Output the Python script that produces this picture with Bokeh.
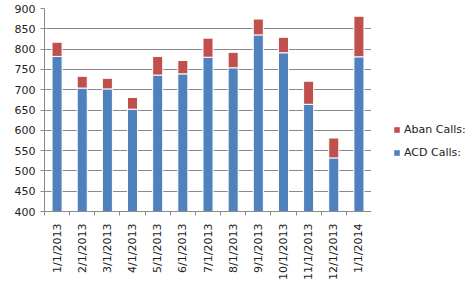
from bokeh.plotting import figure
from bokeh.models import FixedTicker, Legend, LegendItem, ColumnDataSource, Range1d
from bokeh.layouts import row
from bokeh.embed import file_html
from bokeh.resources import INLINE
import math

months = ["1/1/2013", "2/1/2013", "3/1/2013", "4/1/2013", "5/1/2013", "6/1/2013",
          "7/1/2013", "8/1/2013", "9/1/2013", "10/1/2013", "11/1/2013", "12/1/2013", "1/1/2014"]
acd_calls = [782, 704, 702, 652, 736, 739, 780, 754, 835, 791, 664, 532, 781]
aban_calls = [35, 29, 26, 29, 46, 33, 47, 38, 39, 38, 57, 49, 100]
y_ticks = [400, 450, 500, 550, 600, 650, 700, 750, 800, 850, 900]

xs = list(range(len(months)))
tops = [a + b for a, b in zip(acd_calls, aban_calls)]
src = ColumnDataSource(dict(x=xs, acd=acd_calls, total=tops, base=[400] * len(xs)))

FONT = "DejaVu Sans"
GRID = "#8a8a8a"
BLUE = "#4f81bd"
RED = "#c0504d"

p = figure(width=371, height=282, output_backend="svg", toolbar_location=None,
           x_range=Range1d(-0.5, len(months) - 0.5), y_range=Range1d(400, 900),
           min_border_left=44, min_border_right=0, min_border_top=8, min_border_bottom=71)
p.outline_line_color = None
p.background_fill_color = "white"
p.border_fill_color = "white"

r_acd = p.vbar(x="x", bottom="base", top="acd", width=0.4, source=src,
               fill_color=BLUE, line_color="white", line_width=1)
r_aban = p.vbar(x="x", bottom="acd", top="total", width=0.4, source=src,
                fill_color=RED, line_color="white", line_width=1)

# y axis
p.yaxis.ticker = FixedTicker(ticks=y_ticks)
p.yaxis.axis_line_color = GRID
p.yaxis.major_tick_line_color = GRID
p.yaxis.major_tick_out = 4
p.yaxis.major_tick_in = 0
p.yaxis.minor_tick_line_color = None
p.yaxis.major_label_text_font = FONT
p.yaxis.major_label_text_font_size = "11px"
p.yaxis.major_label_text_color = "#222222"
p.yaxis.major_label_standoff = 5

# x axis
p.xaxis.ticker = FixedTicker(ticks=xs, minor_ticks=[i - 0.5 for i in range(len(xs) + 1)])
p.xaxis.major_label_overrides = {i: m for i, m in enumerate(months)}
p.xaxis.major_label_orientation = math.pi / 2
p.xaxis.axis_line_color = GRID
p.xaxis.major_tick_line_color = None
p.xaxis.minor_tick_line_color = GRID
p.xaxis.minor_tick_out = 4
p.xaxis.minor_tick_in = 0
p.xaxis.major_label_text_font = FONT
p.xaxis.major_label_text_font_size = "11px"
p.xaxis.major_label_text_color = "#222222"
p.xaxis.major_label_standoff = 6

p.xgrid.grid_line_color = None
p.ygrid.grid_line_color = GRID
p.ygrid.ticker = FixedTicker(ticks=y_ticks)

# legend panel (dummy swatch renderers lie outside its visible range)
lf = figure(width=102, height=282, output_backend="svg", toolbar_location=None,
            x_range=Range1d(0, 1), y_range=Range1d(0, 1),
            x_axis_location=None, y_axis_location=None,
            min_border_left=0, min_border_right=0, min_border_top=0, min_border_bottom=0)
lf.outline_line_color = None
lf.xgrid.grid_line_color = None
lf.ygrid.grid_line_color = None
dummy = ColumnDataSource(dict(x=[-5], t=[-5], b=[-6]))
la = lf.vbar(x="x", top="t", bottom="b", width=0.1, source=dummy, fill_color=RED, line_color=None)
lc = lf.vbar(x="x", top="t", bottom="b", width=0.1, source=dummy, fill_color=BLUE, line_color=None)

legend = Legend(items=[LegendItem(label="Aban Calls:", renderers=[la]),
                       LegendItem(label="ACD Calls:", renderers=[lc])],
                location=(22, 49), padding=0, margin=0, spacing=3,
                glyph_width=7, glyph_height=7, label_height=20, label_standoff=4,
                label_text_font=FONT, label_text_font_size="11px", label_text_color="#222222",
                border_line_color=None, background_fill_alpha=0)
lf.add_layout(legend, "center")

layout = row(p, lf, spacing=0)
open("out.html", "w").write(file_html(layout, INLINE))
